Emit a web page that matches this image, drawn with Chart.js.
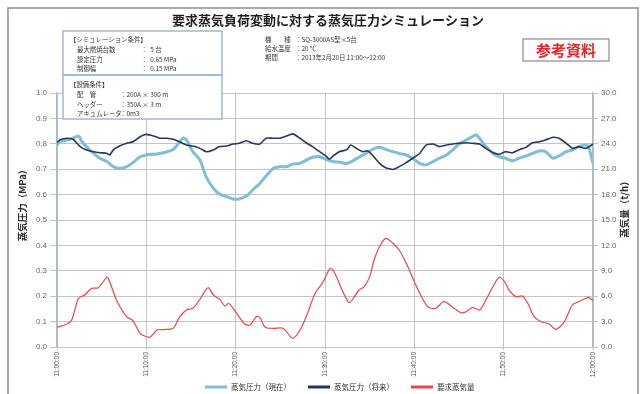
<!DOCTYPE html>
<html>
<head>
<meta charset="utf-8">
<script src="https://cdn.jsdelivr.net/npm/chart.js@4.4.1/dist/chart.umd.min.js"></script>
<style>
  html, body { margin: 0; padding: 0; background: #fff; }
  #wrap { width: 644px; height: 394px; }
</style>
</head>
<body>
<div id="wrap"><canvas id="chart" width="644" height="394"></canvas></div>
<script>
// ---- data (minutes after 11:00) ----
const xTickLabels = ['11:00:00', '11:10:00', '11:20:00', '11:30:00', '11:40:00', '11:50:00', '12:00:00'];

const seriesNames = ['蒸気圧力（現在）', '蒸気圧力（将来）', '要求蒸気量'];

// steam pressure, current system (MPa)
const nowTimes = [0, 0.3, 1.1, 1.8, 2.4, 2.8, 3.3, 4.1, 4.8, 5.6, 6.3, 7.0, 7.8, 8.5, 9.3, 10.0, 11.5, 13.0, 14.1, 14.5,
  15.2, 16.0, 16.7, 17.5, 18.2, 19.0, 19.7, 20.4, 21.2, 21.9, 22.7, 23.4, 24.2, 24.9, 25.7, 26.4, 27.2, 27.9, 28.6, 29.4,
  30.1, 30.9, 31.6, 32.4, 33.1, 33.9, 34.6, 35.3, 36.1, 36.8, 37.6, 38.3, 39.1, 39.8, 40.6, 41.3, 42.1, 42.8, 43.6, 44.3,
  45.0, 45.8, 46.5, 46.9, 47.3, 48.0, 48.8, 49.5, 50.2, 51.0, 51.7, 52.5, 53.2, 54.0, 54.7, 55.5, 56.2, 57.0, 57.7, 58.4,
  59.2, 59.5, 60];
const nowPressure = [0.795, 0.808, 0.815, 0.822, 0.831, 0.808, 0.789, 0.762, 0.743, 0.730, 0.710, 0.703, 0.710, 0.726, 0.749, 0.756, 0.762, 0.778, 0.822, 0.815,
  0.769, 0.736, 0.670, 0.625, 0.602, 0.592, 0.583, 0.583, 0.594, 0.618, 0.644, 0.673, 0.703, 0.710, 0.710, 0.720, 0.723, 0.736, 0.747, 0.749,
  0.739, 0.730, 0.728, 0.722, 0.733, 0.749, 0.762, 0.778, 0.786, 0.778, 0.769, 0.762, 0.756, 0.743, 0.723, 0.717, 0.730, 0.743, 0.756, 0.776,
  0.799, 0.815, 0.828, 0.835, 0.822, 0.789, 0.762, 0.749, 0.743, 0.733, 0.743, 0.752, 0.762, 0.772, 0.769, 0.743, 0.752, 0.769, 0.776, 0.789,
  0.795, 0.789, 0.723];

// steam pressure, planned system (MPa)
const futureTimes = [0, 0.3, 1.1, 1.8, 2.6, 3.3, 4.1, 4.8, 5.6, 5.9, 6.3, 7.0, 7.8, 8.5, 9.3, 10.0, 10.8, 11.5, 12.3, 13.0,
  13.7, 14.5, 15.2, 16.0, 16.7, 17.5, 18.2, 19.0, 19.7, 20.4, 21.2, 21.9, 22.7, 23.4, 24.2, 24.9, 25.7, 26.4, 27.2, 27.9,
  28.6, 29.4, 30.1, 30.5, 30.9, 31.6, 32.4, 32.9, 33.5, 34.2, 34.8, 35.3, 36.1, 36.8, 37.6, 38.3, 39.1, 39.8, 40.6, 41.3,
  42.1, 42.8, 43.6, 44.3, 45.0, 45.8, 46.5, 47.3, 48.0, 48.8, 49.5, 50.2, 51.0, 51.7, 52.5, 53.2, 54.0, 54.7, 55.5, 56.2,
  57.0, 57.7, 58.4, 59.2, 60];
const futurePressure = [0.805, 0.815, 0.822, 0.818, 0.789, 0.776, 0.769, 0.765, 0.762, 0.756, 0.776, 0.791, 0.802, 0.808, 0.828, 0.837, 0.831, 0.822, 0.822, 0.818,
  0.808, 0.795, 0.791, 0.782, 0.769, 0.776, 0.789, 0.791, 0.799, 0.802, 0.812, 0.802, 0.799, 0.822, 0.822, 0.822, 0.831, 0.839, 0.822, 0.804,
  0.789, 0.769, 0.752, 0.739, 0.752, 0.769, 0.776, 0.795, 0.782, 0.769, 0.772, 0.756, 0.723, 0.706, 0.699, 0.710, 0.726, 0.743, 0.762, 0.795,
  0.799, 0.789, 0.795, 0.799, 0.802, 0.804, 0.802, 0.799, 0.782, 0.766, 0.759, 0.769, 0.765, 0.776, 0.786, 0.804, 0.808, 0.815, 0.826, 0.822,
  0.802, 0.782, 0.789, 0.782, 0.799];

// requested steam load (t/h)
const demandTimes = [0, 0.3, 1.1, 1.6, 2.0, 2.4, 3.1, 3.9, 4.6, 5.6, 5.9, 6.5, 7.0, 7.8, 8.5, 9.3, 9.8, 10.4, 11.2, 11.9,
  13.0, 13.7, 14.5, 15.2, 16.0, 16.9, 17.5, 18.2, 18.8, 19.2, 19.9, 21.0, 21.6, 22.3, 22.7, 23.3, 24.2, 25.3, 26.4, 27.2,
  27.9, 28.9, 29.8, 30.6, 31.1, 32.0, 32.7, 33.3, 33.8, 34.4, 35.0, 35.5, 36.1, 36.8, 37.6, 38.3, 39.1, 40.0, 40.9, 41.6,
  42.4, 43.3, 44.3, 45.2, 45.8, 46.5, 47.3, 48.0, 48.8, 49.5, 50.1, 50.6, 51.4, 52.1, 52.7, 53.4, 54.2, 55.1, 55.8, 56.4,
  56.9, 57.7, 58.4, 59.2, 59.5, 60];
const demandFlow = [2.36, 2.40, 2.72, 3.11, 4.37, 5.75, 6.14, 6.93, 7.00, 8.23, 7.71, 5.94, 4.84, 3.58, 3.11, 1.62, 1.30, 1.15, 2.01, 2.06,
  2.21, 3.51, 4.37, 4.57, 5.63, 7.00, 6.14, 5.63, 4.84, 5.16, 4.29, 2.72, 2.60, 3.58, 3.51, 2.33, 2.21, 2.21, 1.03, 2.01,
  3.58, 6.34, 7.71, 9.29, 8.70, 6.53, 5.24, 5.94, 6.73, 7.12, 8.31, 10.28, 11.85, 12.83, 12.25, 11.46, 9.88, 7.71, 5.75, 4.69,
  4.57, 5.35, 4.69, 4.05, 4.17, 4.69, 4.37, 5.55, 7.12, 8.23, 7.71, 6.73, 5.94, 6.02, 5.16, 3.58, 2.99, 2.72, 2.09, 2.48,
  3.19, 4.96, 5.35, 5.75, 5.86, 5.47];

// ---- header texts ----
const chartTitle = '要求蒸気負荷変動に対する蒸気圧力シミュレーション';
const condTitle = '【シミュレーション条件】';
const condLabels = ['最大燃焼台数', '設定圧力', '制御幅'];
const condValues = ['：  5 台', '：  0.65 MPa', '：  0.15 MPa'];
const equipTitle = '【設備条件】';
const equipLabels = ['配　管', 'ヘッダー', 'アキュムレータ'];
const equipValues = ['：200A × 300 m', '：350A × 3 m', '：0m3'];
const specLabels = ['機　　種', '給水温度', '期間'];
const specValues = ['：SQ-3000AS型×5台', '：20 ℃', '：2013年2月20日 11:00～12:00'];
const stampText = '参考資料';
const leftAxisTitle = '蒸気圧力（MPa）';
const rightAxisTitle = '蒸気量（t/h）';

const toPoints = (xs, ys) => xs.map((x, i) => ({ x, y: ys[i] }));

const JP = '"Noto Sans CJK JP", "Noto Sans", sans-serif';
const NUM = '"Liberation Sans", Arial, sans-serif';

// Frame, heading, condition boxes, rotated axis titles and the series key
const decor = {
  id: 'decor',
  beforeDraw(chart) {
    const c = chart.ctx;
    c.save();
    c.fillStyle = '#ffffff';
    c.fillRect(0, 0, chart.width, chart.height);
    c.restore();
  },
  afterDraw(chart) {
    const c = chart.ctx;
    c.save();

    // outer frame
    c.strokeStyle = '#8f8f8f';
    c.lineWidth = 1.5;
    c.strokeRect(8, 8, 630, 400);

    // heading
    c.fillStyle = '#1e1e1e';
    c.font = 'bold 13px ' + JP;
    c.textAlign = 'center';
    c.textBaseline = 'middle';
    c.fillText(chartTitle, 328, 20);

    // condition boxes
    c.fillStyle = '#ffffff';
    c.strokeStyle = '#9fb8d8';
    c.lineWidth = 1.5;
    c.fillRect(63, 31, 159, 88);
    c.strokeRect(63, 31, 159, 44);
    c.strokeRect(63, 75, 159, 44);

    c.fillStyle = '#333333';
    c.textAlign = 'left';
    c.font = '6.4px ' + JP;
    c.fillText(condTitle, 70, 40);
    condLabels.forEach((t, i) => {
      c.fillText(t, 77, 50 + i * 9.2);
      c.fillText(condValues[i], 141, 50 + i * 9.2);
    });
    c.fillText(equipTitle, 70, 85);
    equipLabels.forEach((t, i) => {
      c.fillText(t, 77, 95 + i * 9.5);
      c.fillText(equipValues[i], 120, 95 + i * 9.5);
    });

    // unit specs
    specLabels.forEach((t, i) => {
      c.fillText(t, 265, 40 + i * 9);
      c.fillText(specValues[i], 295, 40 + i * 9);
    });

    // stamp
    c.strokeStyle = '#8a8a8a';
    c.lineWidth = 1.2;
    c.strokeRect(523, 39, 86, 22);
    c.fillStyle = '#e5262a';
    c.font = 'bold 15px ' + JP;
    c.textAlign = 'center';
    c.fillText(stampText, 566, 50.5);

    // axis titles (read bottom to top)
    c.fillStyle = '#2a2a2a';
    c.font = 'bold 9.5px ' + JP;
    c.save();
    c.translate(22, 203);
    c.rotate(-Math.PI / 2);
    c.fillText(leftAxisTitle, 0, 0);
    c.restore();
    c.save();
    c.translate(624, 207);
    c.rotate(-Math.PI / 2);
    c.fillText(rightAxisTitle, 0, 0);
    c.restore();

    // series key along the bottom
    c.font = '7.5px ' + JP;
    c.textAlign = 'left';
    c.fillStyle = '#333';
    let kx = 205;
    const ky = 387;
    chart.data.datasets.forEach(ds => {
      c.strokeStyle = ds.borderColor;
      c.lineWidth = 3;
      c.beginPath();
      c.moveTo(kx, ky);
      c.lineTo(kx + 22, ky);
      c.stroke();
      c.fillText(ds.label, kx + 26, ky);
      kx += 26 + c.measureText(ds.label).width + 17;
    });

    c.restore();
  }
};

const gridColor = '#c3c3c3';
const axisBlue = '#a3b9d4';

new Chart(document.getElementById('chart'), {
  type: 'line',
  data: {
    datasets: [
      {
        label: seriesNames[0],
        data: toPoints(nowTimes, nowPressure),
        borderColor: '#80bfd1',
        backgroundColor: '#80bfd1',
        borderWidth: 3,
        pointRadius: 0,
        tension: 0.25,
        yAxisID: 'y',
        order: 3
      },
      {
        label: seriesNames[1],
        data: toPoints(futureTimes, futurePressure),
        borderColor: '#27365f',
        backgroundColor: '#27365f',
        borderWidth: 1.6,
        pointRadius: 0,
        tension: 0.15,
        yAxisID: 'y',
        order: 2
      },
      {
        label: seriesNames[2],
        data: toPoints(demandTimes, demandFlow),
        borderColor: '#e8464b',
        backgroundColor: '#e8464b',
        borderWidth: 1.2,
        pointRadius: 0,
        tension: 0.3,
        yAxisID: 'y2',
        order: 1
      }
    ]
  },
  options: {
    responsive: false,
    animation: false,
    devicePixelRatio: 1,
    layout: { padding: { left: 0, right: 0, top: 93, bottom: 0 } },
    plugins: {
      title: { display: false },
      tooltip: { enabled: false },
      legend: { display: false }
    },
    scales: {
      x: {
        type: 'linear',
        position: 'bottom',
        min: 0,
        max: 60,
        afterFit: s => { s.height = 47; },
        ticks: {
          stepSize: 10,
          autoSkip: false,
          minRotation: 90,
          maxRotation: 90,
          padding: 2,
          color: '#555',
          font: { family: NUM, size: 6.5 },
          callback: v => xTickLabels[Math.round(v / 10)]
        },
        grid: { color: gridColor, lineWidth: 1, tickLength: 3 },
        border: { color: gridColor }
      },
      y: {
        position: 'left',
        min: 0,
        max: 1,
        afterFit: s => { s.width = 57; },
        ticks: {
          stepSize: 0.1,
          padding: 3,
          color: '#666',
          font: { family: NUM, size: 8 },
          callback: v => Number(v).toFixed(1)
        },
        grid: { color: gridColor, lineWidth: 1, tickLength: 7 },
        border: { color: axisBlue, width: 1.2 }
      },
      y2: {
        position: 'right',
        min: 0,
        max: 30,
        afterFit: s => { s.width = 51; },
        ticks: {
          stepSize: 3,
          padding: 3,
          color: '#666',
          font: { family: NUM, size: 8 },
          callback: v => Number(v).toFixed(1)
        },
        grid: { drawOnChartArea: false, color: gridColor, tickLength: 5 },
        border: { color: axisBlue, width: 1.2 }
      }
    }
  },
  plugins: [decor]
});
</script>
</body>
</html>
